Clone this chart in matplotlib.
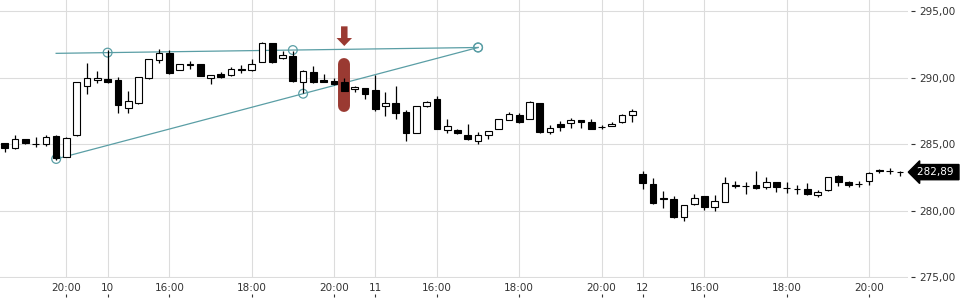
import matplotlib
matplotlib.use("Agg")
import matplotlib.pyplot as plt
from matplotlib.patches import FancyArrow
from matplotlib.transforms import blended_transform_factory

# 15-minute candles, one per index position
opens = [285.06, 284.68, 285.38, 284.98, 284.98, 285.60, 284.05, 285.66, 289.36, 289.79,
         289.89, 289.82, 287.69, 288.06, 289.94, 291.32, 291.87, 290.57, 291.05, 291.02,
         289.94, 290.24, 290.19, 290.68, 290.54, 291.19, 292.57, 291.45, 291.62, 289.69,
         290.44, 289.82, 289.74, 289.64, 289.12, 289.19, 289.04, 287.84, 288.09, 287.41,
         285.81, 287.86, 288.36, 286.06, 286.06, 285.66, 285.25, 285.66, 286.11, 286.81,
         287.18, 286.86, 288.06, 285.93, 286.51, 286.61, 286.81, 286.63, 286.25, 286.36,
         286.66, 287.18, 282.75, 282.00, 280.92, 280.84, 279.49, 280.47, 281.09, 280.24,
         280.67, 281.85, 281.88, 281.94, 281.75, 282.15, 281.68, 281.61, 281.60, 281.15,
         281.54, 282.60, 282.15, 282.03, 282.24, 283.01, 283.00, 282.93]
highs = [285.10, 285.68, 285.40, 285.55, 285.68, 285.65, 285.50, 289.70, 291.07, 290.49,
         292.07, 290.02, 288.99, 290.05, 291.40, 292.12, 292.07, 291.05, 291.27, 291.05,
         290.20, 290.44, 290.79, 290.94, 291.37, 292.65, 292.60, 292.00, 292.02, 290.55,
         290.87, 290.27, 289.99, 289.94, 289.39, 289.20, 290.19, 288.89, 289.36, 287.56,
         287.85, 288.26, 288.63, 286.86, 286.15, 286.48, 285.88, 286.00, 286.90, 287.39,
         287.31, 288.26, 288.10, 286.41, 286.76, 286.96, 286.83, 286.88, 286.40, 286.68,
         287.25, 287.61, 283.00, 282.42, 281.49, 281.09, 280.45, 281.22, 281.12, 281.17,
         282.50, 282.22, 282.17, 283.00, 282.50, 282.17, 282.12, 281.92, 282.05, 281.54,
         282.52, 282.67, 282.24, 282.24, 282.90, 283.12, 283.18, 282.97]
lows = [284.42, 284.60, 285.00, 284.80, 284.87, 283.80, 284.00, 285.60, 288.74, 289.61,
        289.57, 287.31, 287.31, 288.00, 289.90, 291.07, 290.27, 290.55, 290.62, 290.10,
        289.49, 290.00, 290.15, 290.36, 290.50, 291.15, 291.10, 291.40, 289.70, 288.81,
        289.60, 289.69, 289.45, 289.00, 288.94, 288.39, 287.51, 287.13, 286.90, 285.25,
        285.80, 287.81, 286.10, 285.81, 285.73, 285.30, 284.98, 285.36, 286.10, 286.80,
        286.60, 286.85, 285.85, 285.75, 286.00, 286.23, 286.23, 286.10, 286.13, 286.33,
        286.60, 286.68, 281.60, 280.47, 280.17, 279.45, 279.21, 280.45, 280.02, 279.99,
        280.65, 281.67, 281.22, 281.60, 281.60, 281.37, 281.34, 281.27, 281.20, 281.02,
        281.50, 281.85, 281.80, 281.80, 281.92, 282.85, 282.77, 282.60]
closes = [284.68, 285.36, 285.06, 284.98, 285.55, 283.97, 285.48, 289.64, 289.94, 289.94,
          289.69, 287.91, 288.24, 290.02, 291.37, 291.82, 290.36, 291.02, 290.98, 290.14,
          290.17, 290.02, 290.67, 290.60, 291.02, 292.62, 291.19, 291.70, 289.76, 290.51,
          289.64, 289.69, 289.49, 289.01, 289.27, 288.74, 287.66, 288.09, 287.36, 285.85,
          287.84, 288.14, 286.15, 286.33, 285.81, 285.36, 285.66, 285.98, 286.86, 287.24,
          286.63, 288.14, 285.93, 286.18, 286.30, 286.81, 286.68, 286.15, 286.28, 286.53,
          287.21, 287.48, 282.05, 280.59, 280.86, 279.49, 280.40, 280.97, 280.24, 280.74,
          282.05, 281.90, 281.83, 281.72, 282.17, 281.75, 281.66, 281.60, 281.22, 281.37,
          282.50, 282.12, 281.90, 282.01, 282.85, 283.00, 282.95, 282.89]

x_tick_pos = [6, 10, 16, 24, 32, 36, 42, 50, 58, 62, 68, 76, 84]
x_tick_labels = ["20:00", "10", "16:00", "18:00", "20:00", "11", "16:00",
                 "18:00", "20:00", "12", "16:00", "18:00", "20:00"]
y_ticks = [275, 280, 285, 290, 295]
y_tick_labels = ["275,00", "280,00", "285,00", "290,00", "295,00"]

# drawn annotations: two trend lines and a sell marker
line_a = ([5, 46], [291.82, 292.26])
line_a_marks = [10, 28, 46]
line_b = ([5, 46], [283.88, 292.26])
line_b_marks = [5, 29, 46]
marker_idx = 33
marker_bar = (287.86, 291.02)
marker_arrow = (293.85, 292.37)

teal = "#5a9ea5"
red = "#9a3a32"
text_col = "#333333"

fig = plt.figure(figsize=(9.6, 3.0), dpi=100)
ax = fig.add_axes([0.0, 22 / 300, 908 / 960, 278 / 300])

x = list(range(len(closes)))

# trend lines with hollow circle handles
ax.plot(line_a[0], line_a[1], color=teal, lw=0.9, zorder=2)
ax.plot(line_b[0], line_b[1], color=teal, lw=0.9, zorder=2)
for (xs, ys), marks in ((line_a, line_a_marks), (line_b, line_b_marks)):
    slope = (ys[1] - ys[0]) / (xs[1] - xs[0])
    my = [ys[0] + slope * (m - xs[0]) for m in marks]
    ax.scatter(marks, my, s=40, facecolors="none", edgecolors=teal, lw=0.9, zorder=2)

# red sell marker
ax.plot([marker_idx, marker_idx], marker_bar, color=red, lw=8.6,
        solid_capstyle="round", zorder=2.5)
ax.add_patch(FancyArrow(marker_idx, marker_arrow[0], 0, marker_arrow[1] - marker_arrow[0],
                        width=6.5 / 10.29, head_width=15.5 / 10.29, head_length=8 / 13.3,
                        length_includes_head=True, color=red, lw=0, zorder=2.5))

# candles
ax.vlines(x, lows, highs, color="black", lw=0.9, zorder=3)
heights = [max(abs(c - o), 0.02) for o, c in zip(opens, closes)]
bottoms = [min(o, c) for o, c in zip(opens, closes)]
colors = ["white" if c >= o else "black" for o, c in zip(opens, closes)]
ax.bar(x, heights, bottom=bottoms, width=0.65, color=colors,
       edgecolor="black", lw=0.8, zorder=4)

ax.set_xlim(-0.457, 87.78)
ax.set_ylim(274.93, 295.83)

ax.set_xticks(x_tick_pos)
ax.set_xticklabels(x_tick_labels)
ax.set_yticks(y_ticks)
ax.set_yticklabels(y_tick_labels)
ax.yaxis.tick_right()
ax.spines["right"].set_position(("outward", 2.5))
ax.tick_params(axis="x", length=0, pad=3.5, labelsize=7.5, labelcolor=text_col)
ax.tick_params(axis="y", length=2.8, width=0.8, color=text_col, pad=2.5,
               labelsize=7.5, labelcolor=text_col)
ax.grid(True, color="#dcdcdc", lw=0.8, zorder=0)
ax.set_axisbelow(True)
for s in ax.spines.values():
    s.set_visible(False)

# small tick marks under the time labels
sec = ax.secondary_xaxis(-0.068)
sec.set_xticks(x_tick_pos)
sec.tick_params(direction="in", length=2.5, width=0.8, color=text_col, labelbottom=False)
sec.spines["bottom"].set_visible(False)

# last price tag
trans = blended_transform_factory(ax.transAxes, ax.transData)
ax.text(1.0095, closes[-1], "282,89 ", transform=trans, ha="left", va="center",
        fontsize=7.5, color="white", clip_on=False, zorder=6,
        bbox=dict(boxstyle="larrow,pad=0.25", fc="black", ec="black"))

fig.savefig("out.png", dpi=100)
